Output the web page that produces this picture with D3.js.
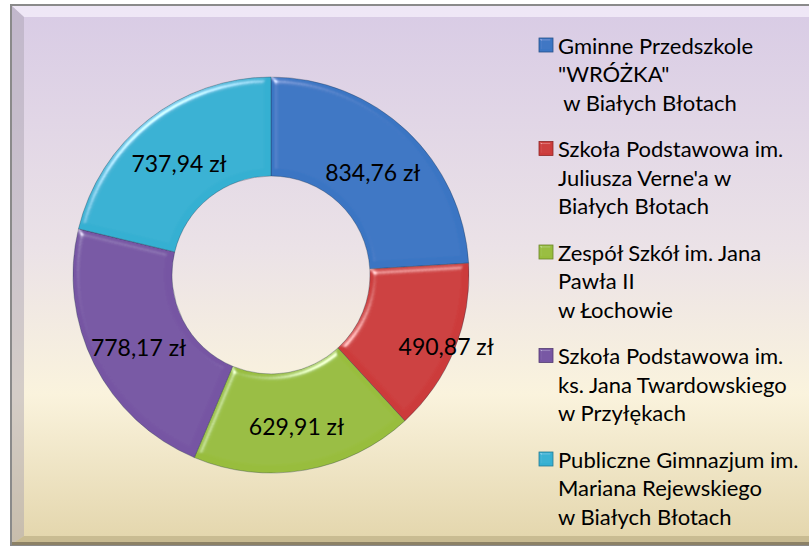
<!DOCTYPE html>
<html>
<head>
<meta charset="utf-8">
<script src="https://d3js.org/d3.v7.min.js"></script>
<style>
  body { margin: 0; background: #fff; }
  text { font-family: Lato, "Open Sans", sans-serif; fill: #000; }
</style>
</head>
<body>
<script>
// data
var schools = [
  ["Gminne Przedszkole", "\"WRÓŻKA\"", "\u00a0w Białych Błotach"],
  ["Szkoła Podstawowa im.", "Juliusza Verne'a w", "Białych Błotach"],
  ["Zespół Szkół im. Jana", "Pawła II", "w Łochowie"],
  ["Szkoła Podstawowa im.", "ks. Jana Twardowskiego", "w Przyłękach"],
  ["Publiczne Gimnazjum im.", "Mariana Rejewskiego", "w Białych Błotach"]
];
var costs = [834.76, 490.87, 629.91, 778.17, 737.94];
var colors = ["#3a75c3", "#cc3b3b", "#98bd3e", "#7655a3", "#35b0d2"];

var width = 809, height = 547;
var cx = 271, cy = 275, outerR = 198, innerR = 99;

var svg = d3.select("body").append("svg")
    .attr("width", width)
    .attr("height", height);

var defs = svg.append("defs");

// background gradient
var bg = defs.append("linearGradient").attr("id", "bg")
    .attr("x1", 0).attr("y1", 0).attr("x2", 0).attr("y2", 1);
bg.append("stop").attr("offset", "0").attr("stop-color", "#d8cbe5");
bg.append("stop").attr("offset", "0.45").attr("stop-color", "#ebe2e7");
bg.append("stop").attr("offset", "0.72").attr("stop-color", "#faf3dd");
bg.append("stop").attr("offset", "1").attr("stop-color", "#e3d5ab");

// bevel filter for slices
function bevel(id, blur, scale, k3) {
  var f = defs.append("filter").attr("id", id)
      .attr("x", "-10%").attr("y", "-10%").attr("width", "120%").attr("height", "120%");
  f.append("feGaussianBlur").attr("in", "SourceAlpha").attr("stdDeviation", blur).attr("result", "blur");
  var s = f.append("feSpecularLighting").attr("in", "blur")
      .attr("surfaceScale", scale).attr("specularConstant", 1)
      .attr("specularExponent", 35).attr("lighting-color", "#ffffff").attr("result", "spec");
  s.append("feDistantLight").attr("azimuth", 235).attr("elevation", 35);
  f.append("feComposite").attr("in", "spec").attr("in2", "SourceAlpha").attr("operator", "in").attr("result", "specOut");
  f.append("feComposite").attr("in", "SourceGraphic").attr("in2", "specOut")
      .attr("operator", "arithmetic").attr("k1", 0).attr("k2", 1).attr("k3", k3).attr("k4", 0);
}
bevel("bevel", 3, 4, 0.6);
bevel("bevelSmall", 1.2, 3, 0.5);

// frame
var frame = svg.append("g");
frame.append("rect")
    .attr("x", 11).attr("y", 5).attr("width", 810).attr("height", 540)
    .attr("fill", "url(#bg)").attr("stroke", "#8a8a8a").attr("stroke-width", 2);
// bevel strips of the frame
frame.append("path")
    .attr("d", "M12,6 L822,6 L822,17 L24,17 Z")
    .attr("fill", "#f6f0fb").attr("opacity", 0.75);
frame.append("path")
    .attr("d", "M12,6 L24,17 L24,536 L12,544 Z")
    .attr("fill", "#a69fae").attr("opacity", 0.45);
frame.append("path")
    .attr("d", "M12,544 L24,536 L822,536 L822,544 Z")
    .attr("fill", "#b3a57c").attr("opacity", 0.55);
frame.append("line")
    .attr("x1", 12).attr("x2", 822).attr("y1", 543.5).attr("y2", 543.5)
    .attr("stroke", "#8c8166").attr("stroke-width", 3);

// donut
var pie = d3.pie().sort(null).value(function(d) { return d; });
var arcs = pie(costs);
var total = d3.sum(costs);

var arc = d3.arc().innerRadius(innerR).outerRadius(outerR);
var labelArc = d3.arc().innerRadius(innerR).outerRadius(outerR);
var outsideArc = d3.arc().innerRadius(outerR - 28).outerRadius(outerR + 10);

var g = svg.append("g").attr("transform", "translate(" + cx + "," + cy + ")");

g.selectAll("path.slice")
    .data(arcs)
    .enter().append("path")
    .attr("class", "slice")
    .attr("d", arc)
    .attr("fill", function(d, i) { return colors[i]; })
    .attr("stroke", "#1d2f44")
    .attr("stroke-opacity", 0.4)
    .attr("stroke-width", 0.8)
    .attr("filter", "url(#bevel)");

var fmt = function(v) { return d3.format(".2f")(v).replace(".", ",") + " zł"; };

// small slice: label is pushed out over the rim
g.selectAll("text.lbl")
    .data(arcs)
    .enter().append("text")
    .attr("class", "lbl")
    .attr("transform", function(d) {
      var small = d.value / total < 0.15;
      var c = small ? outsideArc.centroid(d) : labelArc.centroid(d);
      return "translate(" + c[0] + "," + (c[1] + (small ? 0 : 5)) + ")";
    })
    .attr("text-anchor", "middle")
    .attr("dominant-baseline", "central")
    .style("font-size", "23px")
    .text(function(d) { return fmt(d.value); });

// legend
var legend = svg.append("g").attr("transform", "translate(539,45)");
var item = legend.selectAll("g.item")
    .data(schools)
    .enter().append("g")
    .attr("class", "item")
    .attr("transform", function(d, i) { return "translate(0," + i * 103.5 + ")"; });

item.append("rect")
    .attr("x", 0).attr("y", -7).attr("width", 14).attr("height", 14)
    .attr("fill", function(d, i) { return colors[i]; })
    .attr("stroke", function(d, i) { return d3.color(colors[i]).darker(1); })
    .attr("stroke-width", 0.8)
    .attr("filter", "url(#bevelSmall)");

item.selectAll("text")
    .data(function(d) { return d; })
    .enter().append("text")
    .attr("x", 19)
    .attr("y", function(d, j) { return j * 28.5; })
    .attr("dominant-baseline", "central")
    .style("font-size", "22px")
    .text(function(d) { return d; });
</script>
</body>
</html>
